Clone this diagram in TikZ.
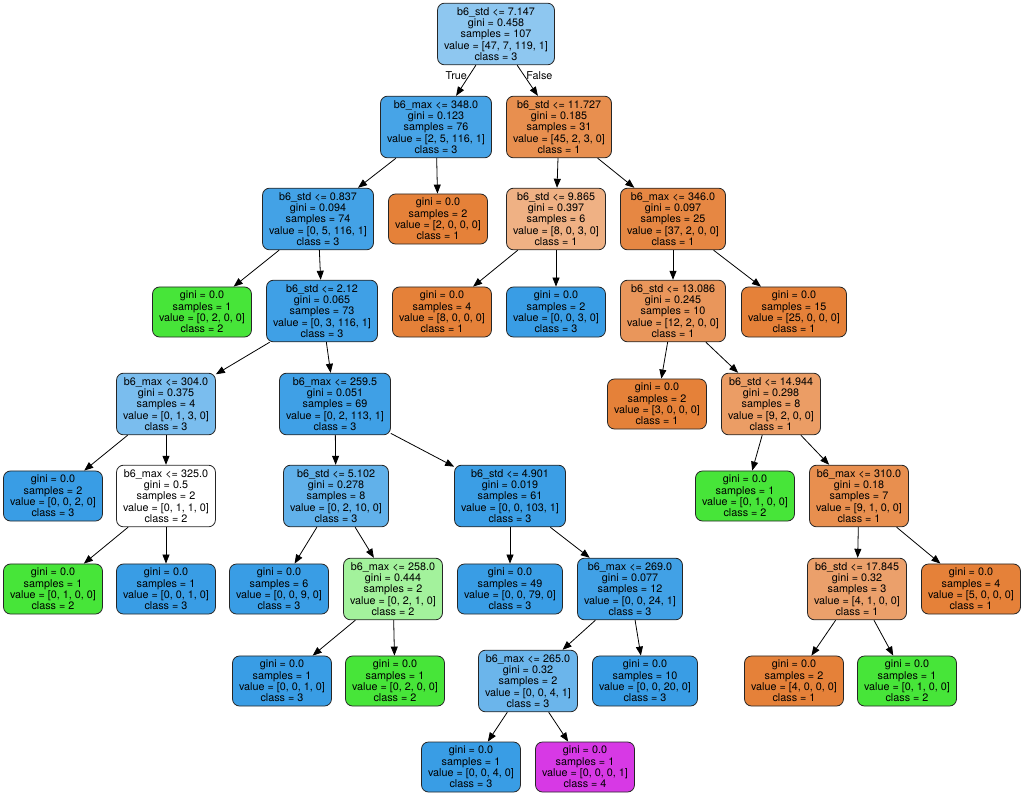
\documentclass[tikz,border=0pt]{standalone}
\usepackage{fontspec}
\setmainfont{TeX Gyre Heros}
\usepackage{tikz}
\usetikzlibrary{arrows.meta}
\definecolor{corange}{RGB}{229,129,57}
\definecolor{cgreen}{RGB}{71,229,57}
\definecolor{cblue}{RGB}{57,157,229}
\definecolor{cpurple}{RGB}{215,57,229}

\begin{document}
\begin{tikzpicture}[x=1pt, y=-1pt, >={Triangle[length=9pt,width=7pt]}, every path/.append style={line width=0.8pt}]
	\tikzstyle{split}=[rectangle, rounded corners=7pt, draw=black!85, line width=0.8pt, align=center, inner xsep=6.5pt, inner ysep=4pt, font=\fontsize{10.8}{11.4}\selectfont]
	\tikzstyle{leaf}=[split]
	\tikzstyle{lbl}=[font=\fontsize{10.8}{11.4}\selectfont, inner sep=2pt]
	
	\useasboundingbox (0,0) rectangle (1024,797);
	
	\draw node at (496, 34) [split, fill=cblue!57] (root) {b6\_std <= 7.147\\gini = 0.458\\samples = 107\\value = [47, 7, 119, 1]\\class = 3};
	
	\draw node at (436, 127) [split, fill=cblue!93] (n1) {b6\_max <= 348.0\\gini = 0.123\\samples = 76\\value = [2, 5, 116, 1]\\class = 3};
	\draw node at (559, 127) [split, fill=corange!89] (n2) {b6\_std <= 11.727\\gini = 0.185\\samples = 31\\value = [45, 2, 3, 0]\\class = 1};
	
	\draw [->] (root) to node[pos=0.33, left, lbl]{True} (n1);
	\draw [->] (root) to node[pos=0.33, right, lbl]{False} (n2);
	
	\draw node at (318, 219) [split, fill=cblue!95] (n3) {b6\_std <= 0.837\\gini = 0.094\\samples = 74\\value = [0, 5, 116, 1]\\class = 3};
	\draw node at (438, 219) [leaf, fill=corange] (n4) {gini = 0.0\\samples = 2\\value = [2, 0, 0, 0]\\class = 1};
	\draw node at (556, 219) [split, fill=corange!62] (n5) {b6\_std <= 9.865\\gini = 0.397\\samples = 6\\value = [8, 0, 3, 0]\\class = 1};
	\draw node at (673, 219) [split, fill=corange!95] (n6) {b6\_max <= 346.0\\gini = 0.097\\samples = 25\\value = [37, 2, 0, 0]\\class = 1};
	
	\draw [->] (n1) to (n3);
	\draw [->] (n1) to (n4);
	\draw [->] (n2) to (n5);
	\draw [->] (n2) to (n6);
	
	\draw node at (202, 312) [leaf, fill=cgreen] (n7) {gini = 0.0\\samples = 1\\value = [0, 2, 0, 0]\\class = 2};
	\draw node at (322, 311) [split, fill=cblue!97] (n8) {b6\_std <= 2.12\\gini = 0.065\\samples = 73\\value = [0, 3, 116, 1]\\class = 3};
	\draw node at (442, 312) [leaf, fill=corange] (n9) {gini = 0.0\\samples = 4\\value = [8, 0, 0, 0]\\class = 1};
	\draw node at (556, 312) [leaf, fill=cblue] (n10) {gini = 0.0\\samples = 2\\value = [0, 0, 3, 0]\\class = 3};
	\draw node at (673, 311) [split, fill=corange!83] (n11) {b6\_std <= 13.086\\gini = 0.245\\samples = 10\\value = [12, 2, 0, 0]\\class = 1};
	\draw node at (794, 312) [leaf, fill=corange] (n12) {gini = 0.0\\samples = 15\\value = [25, 0, 0, 0]\\class = 1};
	
	\draw [->] (n3) to (n7);
	\draw [->] (n3) to (n8);
	\draw [->] (n5) to (n9);
	\draw [->] (n5) to (n10);
	\draw [->] (n6) to (n11);
	\draw [->] (n6) to (n12);
	
	\draw node at (166, 404) [split, fill=cblue!67] (n13) {b6\_max <= 304.0\\gini = 0.375\\samples = 4\\value = [0, 1, 3, 0]\\class = 3};
	\draw node at (335, 404) [split, fill=cblue!97] (n14) {b6\_max <= 259.5\\gini = 0.051\\samples = 69\\value = [0, 2, 113, 1]\\class = 3};
	\draw node at (657, 404) [leaf, fill=corange] (n15) {gini = 0.0\\samples = 2\\value = [3, 0, 0, 0]\\class = 1};
	\draw node at (771, 404) [split, fill=corange!78] (n16) {b6\_std <= 14.944\\gini = 0.298\\samples = 8\\value = [9, 2, 0, 0]\\class = 1};
	
	\draw [->] (n8) to (n13);
	\draw [->] (n8) to (n14);
	\draw [->] (n11) to (n15);
	\draw [->] (n11) to (n16);
	
	\draw node at (53, 496) [leaf, fill=cblue] (n17) {gini = 0.0\\samples = 2\\value = [0, 0, 2, 0]\\class = 3};
	\draw node at (166, 496) [split, fill=white] (n18) {b6\_max <= 325.0\\gini = 0.5\\samples = 2\\value = [0, 1, 1, 0]\\class = 2};
	\draw node at (336, 496) [split, fill=cblue!80] (n19) {b6\_std <= 5.102\\gini = 0.278\\samples = 8\\value = [0, 2, 10, 0]\\class = 3};
	\draw node at (510, 496) [split, fill=cblue!99] (n20) {b6\_std <= 4.901\\gini = 0.019\\samples = 61\\value = [0, 0, 103, 1]\\class = 3};
	\draw node at (745, 496) [leaf, fill=cgreen] (n21) {gini = 0.0\\samples = 1\\value = [0, 1, 0, 0]\\class = 2};
	\draw node at (859, 496) [split, fill=corange!89] (n22) {b6\_max <= 310.0\\gini = 0.18\\samples = 7\\value = [9, 1, 0, 0]\\class = 1};
	
	\draw [->] (n13) to (n17);
	\draw [->] (n13) to (n18);
	\draw [->] (n14) to (n19);
	\draw [->] (n14) to (n20);
	\draw [->] (n16) to (n21);
	\draw [->] (n16) to (n22);
	
	\draw node at (53, 589) [leaf, fill=cgreen] (n23) {gini = 0.0\\samples = 1\\value = [0, 1, 0, 0]\\class = 2};
	\draw node at (166, 589) [leaf, fill=cblue] (n24) {gini = 0.0\\samples = 1\\value = [0, 0, 1, 0]\\class = 3};
	\draw node at (279, 589) [leaf, fill=cblue] (n25) {gini = 0.0\\samples = 6\\value = [0, 0, 9, 0]\\class = 3};
	\draw node at (393, 589) [split, fill=cgreen!50] (n26) {b6\_max <= 258.0\\gini = 0.444\\samples = 2\\value = [0, 2, 1, 0]\\class = 2};
	\draw node at (510, 589) [leaf, fill=cblue] (n27) {gini = 0.0\\samples = 49\\value = [0, 0, 79, 0]\\class = 3};
	\draw node at (630, 589) [split, fill=cblue!96] (n28) {b6\_max <= 269.0\\gini = 0.077\\samples = 12\\value = [0, 0, 24, 1]\\class = 3};
	\draw node at (857, 589) [split, fill=corange!75] (n29) {b6\_std <= 17.845\\gini = 0.32\\samples = 3\\value = [4, 1, 0, 0]\\class = 1};
	\draw node at (971, 589) [leaf, fill=corange] (n30) {gini = 0.0\\samples = 4\\value = [5, 0, 0, 0]\\class = 1};
	
	\draw [->] (n18) to (n23);
	\draw [->] (n18) to (n24);
	\draw [->] (n19) to (n25);
	\draw [->] (n19) to (n26);
	\draw [->] (n20) to (n27);
	\draw [->] (n20) to (n28);
	\draw [->] (n22) to (n29);
	\draw [->] (n22) to (n30);
	
	\draw node at (282, 681) [leaf, fill=cblue] (n31) {gini = 0.0\\samples = 1\\value = [0, 0, 1, 0]\\class = 3};
	\draw node at (395, 681) [leaf, fill=cgreen] (n32) {gini = 0.0\\samples = 1\\value = [0, 2, 0, 0]\\class = 2};
	\draw node at (528, 681) [split, fill=cblue!75] (n33) {b6\_max <= 265.0\\gini = 0.32\\samples = 2\\value = [0, 0, 4, 1]\\class = 3};
	\draw node at (645, 681) [leaf, fill=cblue] (n34) {gini = 0.0\\samples = 10\\value = [0, 0, 20, 0]\\class = 3};
	\draw node at (794, 681) [leaf, fill=corange] (n35) {gini = 0.0\\samples = 2\\value = [4, 0, 0, 0]\\class = 1};
	\draw node at (907, 681) [leaf, fill=cgreen] (n36) {gini = 0.0\\samples = 1\\value = [0, 1, 0, 0]\\class = 2};
	
	\draw [->] (n26) to (n31);
	\draw [->] (n26) to (n32);
	\draw [->] (n28) to (n33);
	\draw [->] (n28) to (n34);
	\draw [->] (n29) to (n35);
	\draw [->] (n29) to (n36);
	
	% last level
	\draw node at (471, 767) [leaf, fill=cblue] (n37) {gini = 0.0\\samples = 1\\value = [0, 0, 4, 0]\\class = 3};
	\draw node at (585, 767) [leaf, fill=cpurple] (n38) {gini = 0.0\\samples = 1\\value = [0, 0, 0, 1]\\class = 4};
	
	\draw [->] (n33) to (n37);
	\draw [->] (n33) to (n38);
\end{tikzpicture}
\end{document}
